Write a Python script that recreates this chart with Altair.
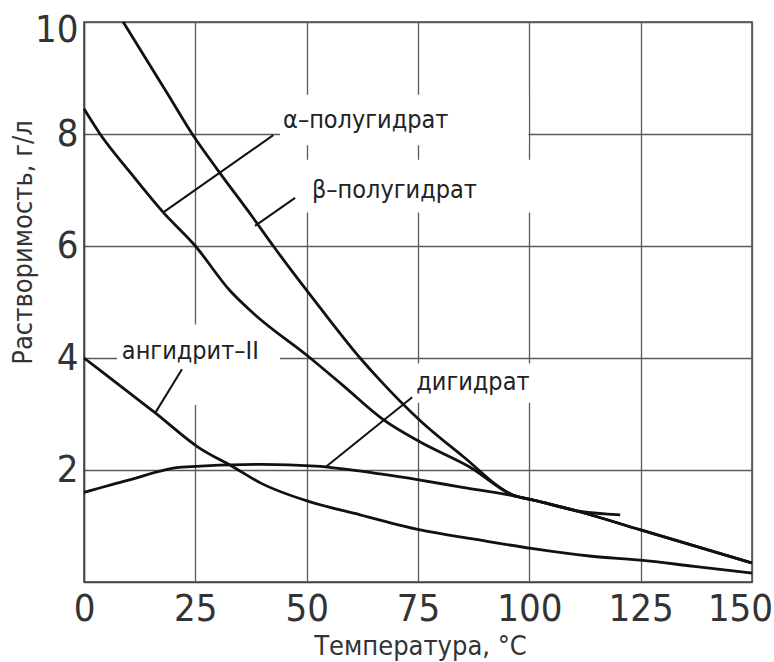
import altair as alt
import pandas as pd

FONT = "DejaVu Sans Condensed, Liberation Sans Narrow, DejaVu Sans, sans-serif"

# ---- data ----
beta_x = [8.8, 18.9, 24.3, 30, 38, 42.5, 53, 62, 66.5, 75.5, 85, 96.4, 101, 111.5, 125, 150]
beta_y = [10.0, 8.7, 8.0, 7.36, 6.5, 6.0, 4.9, 4.0, 3.6, 2.88, 2.25, 1.55, 1.46, 1.25, 0.93, 0.34]

alpha_x = [0, 3.6, 10, 17.8, 25, 32.8, 38, 50.8, 58, 67.2, 75.5, 86.7, 96.4, 101, 111.5, 125, 150]
alpha_y = [8.45, 8.0, 7.35, 6.6, 6.0, 5.2, 4.8, 4.0, 3.52, 2.9, 2.5, 2.05, 1.55, 1.46, 1.25, 0.93, 0.34]

dihyd_x = [0, 10, 22, 40, 52, 66.5, 75.5, 85, 95.7, 101, 111.5, 120.4]
dihyd_y = [1.6, 1.82, 2.05, 2.1, 2.07, 1.93, 1.82, 1.69, 1.55, 1.46, 1.26, 1.2]

anhyd_x = [0, 8, 16, 25.6, 33.6, 39.6, 50.8, 62, 75.5, 88, 100.4, 114, 125, 137, 150]
anhyd_y = [4.0, 3.51, 3.02, 2.41, 2.05, 1.77, 1.43, 1.2, 0.93, 0.76, 0.6, 0.46, 0.39, 0.28, 0.16]

x_ticks = [0, 25, 50, 75, 100, 125, 150]
y_ticks = [2, 4, 6, 8, 10]

labels = ["α–полугидрат", "β–полугидрат", "ангидрит–II", "дигидрат"]
label_x = [44.7, 51.2, 8.5, 74.6]
label_y = [8.25, 7.0, 4.13, 3.57]

# leader lines: label end -> curve point
lead_x = [42.5, 47.4, 22.0, 73.7]
lead_y = [7.98, 6.86, 3.8, 3.3]
lead_x2 = [17.8, 38.4, 16.0, 54.2]
lead_y2 = [6.6, 6.36, 3.02, 2.05]

# white label backgrounds (hide grid behind labels)
box_x = [44.0, 48.5, 7.4, 73.3]
box_x2 = [99.8, 101.3, 44.0, 101.3]
box_y = [7.8, 6.6, 3.16, 3.2]
box_y2 = [8.7, 7.54, 4.6, 3.9]

curves = pd.concat([
    pd.DataFrame({"t": beta_x, "s": beta_y, "series": "beta"}),
    pd.DataFrame({"t": alpha_x, "s": alpha_y, "series": "alpha"}),
    pd.DataFrame({"t": dihyd_x, "s": dihyd_y, "series": "dihydrate"}),
    pd.DataFrame({"t": anhyd_x, "s": anhyd_y, "series": "anhydrite"}),
], ignore_index=True)

lab_df = pd.DataFrame({"t": label_x, "s": label_y, "label": labels})
lead_df = pd.DataFrame({"t": lead_x, "s": lead_y, "t2": lead_x2, "s2": lead_y2})
box_df = pd.DataFrame({"t": box_x, "s": box_y, "t2": box_x2, "s2": box_y2})

xs = alt.Scale(domain=[0, 150], nice=False, zero=False)
ys = alt.Scale(domain=[0, 10], nice=False, zero=False)

x_axis = alt.Axis(
    values=x_ticks, grid=True, ticks=False, tickSize=0,
    labelFontSize=38, labelPadding=8, labelFlush=False,
    labelOffset={"condition": {"test": "datum.value == 150", "value": -12}, "value": 0},
    titleX=336, titleY=72, titleAlign="center", titleBaseline="alphabetic",
    titleFontSize=27,
)
y_axis = alt.Axis(
    values=y_ticks, grid=True, ticks=False, tickSize=0,
    labelFontSize=38, labelPadding=6,
    labelOffset={"condition": {"test": "datum.value == 10", "value": 8}, "value": 0},
    titleX=-53, titleY=220, titleAngle=-90, titleAlign="center",
    titleBaseline="alphabetic", titleFontSize=27,
)

X = alt.X("t:Q", scale=xs, axis=x_axis, title="Температура,  °C")
Y = alt.Y("s:Q", scale=ys, axis=y_axis, title="Растворимость, г/л")

boxes = alt.Chart(box_df).mark_rect(color="white", opacity=1).encode(
    x=X, x2="t2:Q", y=Y, y2="s2:Q"
)

lines = alt.Chart(curves).mark_line(
    color="#111", strokeWidth=2.8, interpolate="monotone"
).encode(x=X, y=Y, detail="series:N")

leaders = alt.Chart(lead_df).mark_rule(color="#111", strokeWidth=2).encode(
    x=X, y=Y, x2="t2:Q", y2="s2:Q"
)

texts = alt.Chart(lab_df).mark_text(
    align="left", baseline="middle", font=FONT, fontSize=25, color="#222"
).encode(x=X, y=Y, text="label:N")

chart = alt.layer(boxes, lines, leaders, texts).properties(
    width=668, height=560,
    autosize=alt.AutoSizeParams(type="none"),
    padding={"left": 84, "top": 22, "right": 22, "bottom": 80},
    background="white",
).configure_axis(
    labelFont=FONT, titleFont=FONT, labelColor="#333", titleColor="#333",
    titleFontWeight="normal", gridColor="#5a5a5a", gridWidth=1.3, gridOpacity=1,
    domainColor="#444", domainWidth=1.5,
).configure_view(stroke="#444", strokeWidth=1.5)

chart.save("out.html", embed_options={"renderer": "svg", "actions": False})
